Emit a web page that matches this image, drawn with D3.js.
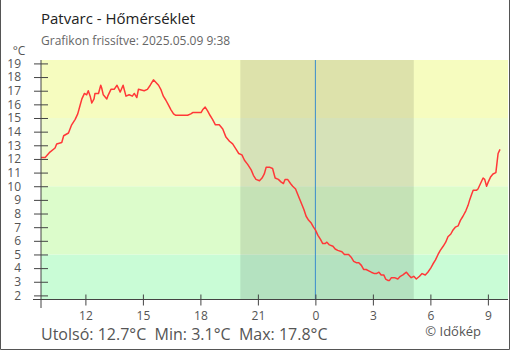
<!DOCTYPE html>
<html>
<head>
<meta charset="utf-8">
<script src="https://cdn.jsdelivr.net/npm/d3@7"></script>
<style>
  body { margin: 0; background: #fff; }
  svg { display: block; font-family: "Open Sans", "Noto Sans", sans-serif; }
</style>
</head>
<body>
<svg id="chart" width="510" height="350"></svg>
<script>
// Station readings: day of month + clock time, temperature in °C
const times = [
  "08 09:40","08 09:54","08 10:09","08 10:25","08 10:30","08 10:46","08 10:52","08 11:07","08 11:17","08 11:28",
  "08 11:36","08 11:43","08 11:49","08 11:57","08 12:04","08 12:09","08 12:15","08 12:20","08 12:27","08 12:30",
  "08 12:41","08 12:48","08 12:51","08 12:56","08 13:07","08 13:10","08 13:20","08 13:30","08 13:39","08 13:49",
  "08 13:58","08 14:07","08 14:17","08 14:27","08 14:33","08 14:41","08 14:46","08 15:04","08 15:14","08 15:23",
  "08 15:33","08 15:41","08 15:49","08 15:56","08 16:04","08 16:12","08 16:19","08 16:28","08 16:36","08 16:43",
  "08 16:59","08 17:20","08 17:30","08 17:36","08 18:02","08 18:07","08 18:15","08 18:23","08 18:30","08 18:38",
  "08 18:47","08 18:59","08 19:10","08 19:20","08 19:31","08 19:41","08 19:52","08 20:00","08 20:10","08 20:18",
  "08 20:28","08 20:39","08 20:46","08 20:54","08 21:05","08 21:13","08 21:20","08 21:26","08 21:36","08 21:46",
  "08 21:54","08 22:04","08 22:13","08 22:20","08 22:25","08 22:33","08 22:42","08 22:49","08 22:58","08 23:03",
  "08 23:10","08 23:17","08 23:24","08 23:31","08 23:39","08 23:47","08 23:54","09 00:00","09 00:08","09 00:16",
  "09 00:23","09 00:31","09 00:36","09 00:44","09 00:55","09 01:02","09 01:10","09 01:23","09 01:31","09 01:44",
  "09 01:52","09 02:00","09 02:08","09 02:16","09 02:24","09 02:31","09 02:39","09 02:47","09 02:55","09 03:05",
  "09 03:11","09 03:19","09 03:26","09 03:34","09 03:40","09 03:47","09 03:52","09 03:58","09 04:08","09 04:18",
  "09 04:26","09 04:34","09 04:45","09 04:52","09 05:00","09 05:08","09 05:16","09 05:26","09 05:34","09 05:44",
  "09 05:52","09 06:01","09 06:08","09 06:16","09 06:24","09 06:31","09 06:40","09 06:48","09 06:55","09 07:04",
  "09 07:11","09 07:18","09 07:27","09 07:34","09 07:42","09 07:51","09 07:58","09 08:03","09 08:09","09 08:14",
  "09 08:24","09 08:29","09 08:37","09 08:45","09 08:50","09 08:56","09 09:01","09 09:09","09 09:16","09 09:25",
  "09 09:29","09 09:32","09 09:38"
];
const temps = [
  12.1,12.1,12.5,12.8,13.1,13.2,13.7,13.9,14.5,14.9,
  15.3,15.9,16.4,16.8,16.7,17.0,16.6,16.1,16.4,16.8,
  16.8,17.4,17.2,16.7,16.4,16.6,17.1,17.1,17.4,16.9,
  17.4,16.6,16.7,16.6,16.8,16.5,17.1,17.0,17.1,17.4,
  17.8,17.6,17.4,17.1,16.6,16.3,16.0,15.6,15.3,15.2,
  15.2,15.2,15.3,15.4,15.4,15.6,15.8,15.5,15.2,14.9,
  14.5,14.5,14.2,13.6,13.3,13.1,12.7,12.4,12.3,11.9,
  11.6,11.2,10.8,10.5,10.4,10.6,10.9,11.4,11.4,11.3,
  10.6,10.5,10.3,10.2,10.5,10.5,10.2,10.0,9.8,9.5,
  9.1,8.7,8.3,7.8,7.5,7.3,7.0,6.8,6.4,6.1,
  5.8,5.8,5.9,5.7,5.6,5.4,5.3,5.2,5.0,5.0,
  4.8,4.5,4.4,4.4,4.2,3.9,3.9,3.8,3.7,3.6,
  3.6,3.7,3.5,3.5,3.2,3.1,3.1,3.3,3.3,3.2,
  3.4,3.5,3.7,3.5,3.3,3.4,3.2,3.4,3.6,3.5,
  3.7,4.0,4.3,4.6,5.0,5.3,5.6,5.9,6.3,6.5,
  6.8,7.0,7.1,7.5,7.8,8.2,8.6,9.0,9.4,9.7,
  9.7,9.8,10.2,10.6,10.5,10.0,10.3,10.7,10.9,11.0,
  11.8,12.4,12.7
];

// Temperature bands behind the curve (lower edge of each band, °C)
const bandFloors = [-50, 5, 10, 15];
const bandColors = ["#c9fcd6", "#dcfccb", "#effccd", "#f6fcbf"];

// Axis ticks
const yTickValues = [2,3,4,5,6,7,8,9,10,11,12,13,14,15,16,17,18,19];
const xTickTimes = ["08 12:00","08 15:00","08 18:00","08 21:00","09 00:00","09 03:00","09 06:00","09 09:00"];
const xTickLabels = ["12","15","18","21","0","3","6","9"];

// Sunset to sunrise, midnight marker and visible time window
const nightSpan = ["08 20:05", "09 05:08"];
const midnight = "09 00:00";
const timeWindow = ["08 09:41", "09 10:03"];

const title = "Patvarc - Hőmérséklet";
const subtitle = "Grafikon frissítve: 2025.05.09 9:38";
const credit = "© Időkép";

const parse = s => d3.timeParse("%Y-%m-%d %H:%M")("2025-05-" + s);
const data = times.map((t, i) => ({ t: parse(t), v: temps[i] }));

const svg = d3.select("#chart");
const plotL = 41, plotR = 508, plotT = 60, plotB = 299.5;

const x = d3.scaleTime().domain(timeWindow.map(parse)).range([plotL, plotR]);
const y = d3.scaleLinear().domain([1.7, 19.25]).range([plotB, plotT]);

svg.append("defs").append("clipPath").attr("id", "plot")
  .append("rect").attr("x", plotL).attr("y", plotT)
  .attr("width", plotR - plotL).attr("height", plotB - plotT);

// Colour bands
const bands = bandFloors.map((lo, i) => ({
  lo, hi: i < bandFloors.length - 1 ? bandFloors[i + 1] : 100, c: bandColors[i]
}));
svg.append("g").attr("clip-path", "url(#plot)")
  .selectAll("rect").data(bands).join("rect")
  .attr("x", plotL).attr("width", plotR - plotL)
  .attr("y", d => y(d.hi)).attr("height", d => y(d.lo) - y(d.hi))
  .attr("fill", d => d.c);

// Night shading
svg.append("rect")
  .attr("x", x(parse(nightSpan[0]))).attr("y", plotT)
  .attr("width", x(parse(nightSpan[1])) - x(parse(nightSpan[0])))
  .attr("height", plotB - plotT)
  .attr("fill", "#000").attr("fill-opacity", 0.1);

// Midnight marker
svg.append("line")
  .attr("x1", x(parse(midnight))).attr("x2", x(parse(midnight)))
  .attr("y1", plotT).attr("y2", plotB)
  .attr("stroke", "#3a8dcc").attr("stroke-width", 1);

// Temperature curve
svg.append("path").datum(data)
  .attr("clip-path", "url(#plot)")
  .attr("fill", "none").attr("stroke", "#ff3838").attr("stroke-width", 1.5)
  .attr("stroke-linejoin", "round")
  .attr("d", d3.line().x(d => x(d.t)).y(d => y(d.v)));

// Y axis
const yAxis = svg.append("g").attr("transform", `translate(${plotL},0)`)
  .call(d3.axisLeft(y).tickValues(yTickValues).tickSize(7).tickPadding(13));
yAxis.select(".domain").remove();
yAxis.selectAll(".tick line").attr("x2", 7).attr("x1", -7).attr("stroke", "#444");
yAxis.selectAll(".tick text").attr("fill", "#555").attr("font-size", 12)
  .attr("font-family", "'Open Sans', sans-serif").attr("x", -20);
yAxis.append("line").attr("x1", 0).attr("x2", 0).attr("y1", plotT).attr("y2", 308)
  .attr("stroke", "#444");

// X axis
const xAxis = svg.append("g").attr("transform", `translate(0,${plotB})`)
  .call(d3.axisBottom(x).tickValues(xTickTimes.map(parse))
    .tickFormat((d, i) => xTickLabels[i]).tickSize(6));
xAxis.select(".domain").remove();
xAxis.selectAll(".tick line").attr("y1", -5).attr("y2", 6).attr("stroke", "#444");
xAxis.selectAll(".tick text").attr("fill", "#555").attr("font-size", 12)
  .attr("font-family", "'Open Sans', sans-serif").attr("y", 12).attr("dy", "0.71em");
xAxis.append("line").attr("x1", 33).attr("x2", plotR).attr("y1", 0).attr("y2", 0)
  .attr("stroke", "#444");

// Unit label
svg.append("text").attr("x", 19).attr("y", 55).attr("text-anchor", "middle")
  .attr("font-size", 12).attr("fill", "#555").text("°C");

// Titles
svg.append("text").attr("x", 41).attr("y", 23.5)
  .attr("font-size", 15).attr("fill", "#222").text(title);
svg.append("text").attr("x", 41).attr("y", 44.5)
  .attr("font-size", 12).attr("fill", "#666").text(subtitle);

// Summary line
const last = temps[temps.length - 1];
const fmt = v => v.toFixed(1) + "°C";
svg.append("text").attr("x", 41).attr("y", 339.5)
  .attr("font-size", 16).attr("fill", "#555")
  .attr("xml:space", "preserve")
  .text(`Utolsó: ${fmt(last)}  Min: ${fmt(d3.min(temps))}  Max: ${fmt(d3.max(temps))}`);

svg.append("text").attr("x", 481).attr("y", 336).attr("text-anchor", "end")
  .attr("font-size", 13).attr("fill", "#555").text(credit);

// Frame
svg.append("path")
  .attr("d", "M0.5,0 V349.5 H509.5 V0")
  .attr("fill", "none").attr("stroke", "#555");
</script>
</body>
</html>
